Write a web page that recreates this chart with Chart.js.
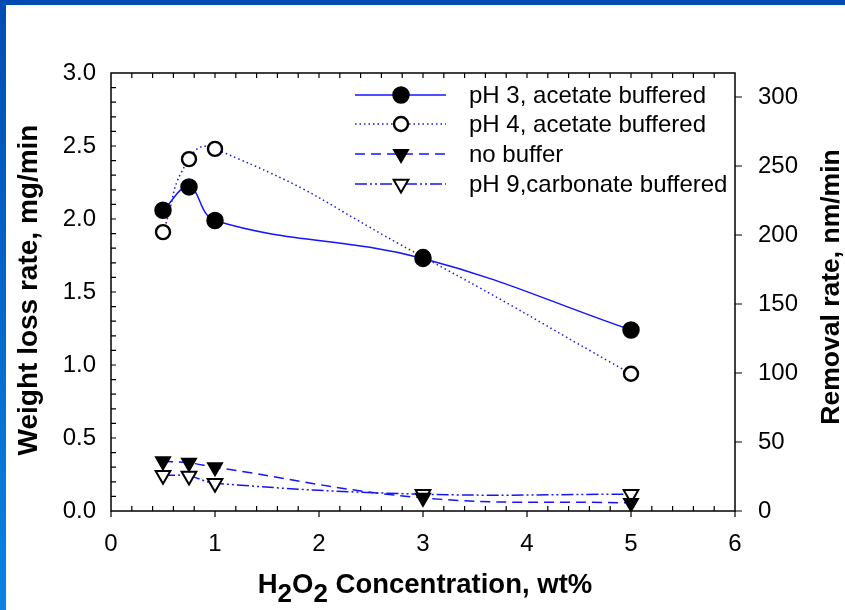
<!DOCTYPE html>
<html>
<head>
<meta charset="utf-8">
<script src="https://cdn.jsdelivr.net/npm/chart.js@4.4.1/dist/chart.umd.min.js"></script>
<style>
  html, body { margin: 0; padding: 0; background: #ffffff; }
  #wrap { position: relative; width: 845px; height: 610px; overflow: hidden; background: #ffffff; }
  #wrap canvas { position: absolute; left: 0; top: 0; }
  #bandTop { position: absolute; left: 0; top: 0; width: 845px; height: 5px; background: #004cb2; }
  #bandLeft { position: absolute; left: 0; top: 0; width: 6px; height: 610px;
              background: linear-gradient(to bottom, #004cb2, #0a82e6); }
</style>
</head>
<body>
<div id="wrap">
  <canvas id="chart" width="845" height="610"></canvas>
  <div id="bandTop"></div>
  <div id="bandLeft"></div>
</div>
<script>
// H2O2 concentration (wt%) at which each rate was measured
const concentration = [0.5, 0.75, 1, 3, 5];

// Weight loss rate, mg/min
const ph3Acetate   = [2.06, 2.22, 1.99, 1.73, 1.24];
const ph4Acetate   = [1.91, 2.41, 2.48, 1.74, 0.94];
const noBuffer     = [0.34, 0.33, 0.30, 0.09, 0.055];
const ph9Carbonate = [0.245, 0.24, 0.19, 0.115, 0.115];

const seriesNames = [
  'pH 3, acetate buffered',
  'pH 4, acetate buffered',
  'no buffer',
  'pH 9,carbonate buffered'
];

// Tick labels
const xTicks       = [0, 1, 2, 3, 4, 5, 6];
const weightTicks  = [0.0, 0.5, 1.0, 1.5, 2.0, 2.5, 3.0];
const removalTicks = [0, 50, 100, 150, 200, 250, 300];

// Conversion between the two vertical axes (nm/min per mg/min)
const removalPerWeight = 105.8;

const FONT = "'Liberation Sans', Arial, Helvetica, sans-serif";
const LINE_BLUE = '#1414ff';

function points(ys) {
  return concentration.map((x, i) => ({ x: x, y: ys[i] }));
}

const seriesStyles = [
  { data: ph3Acetate,   dash: [],                  shape: 'circle',   fill: '#000000', radius: 8,   bw: 1.5, tension: 0.4 },
  { data: ph4Acetate,   dash: [1.5, 3],            shape: 'circle',   fill: '#ffffff', radius: 7,   bw: 2.4, tension: 0.55 },
  { data: noBuffer,     dash: [10, 6],             shape: 'triangle', fill: '#000000', radius: 8.5, bw: 1.5, tension: 0.4 },
  { data: ph9Carbonate, dash: [12, 3, 2, 3, 2, 3], shape: 'triangle', fill: '#ffffff', radius: 8.5, bw: 2,   tension: 0.4 }
];

const datasets = seriesStyles.map((s, i) => ({
  label: seriesNames[i],
  data: points(s.data),
  borderColor: LINE_BLUE,
  borderWidth: 1.5,
  borderDash: s.dash,
  tension: s.tension,
  fill: false,
  pointStyle: s.shape,
  rotation: s.shape === 'triangle' ? 180 : 0,
  pointRadius: s.radius,
  pointBackgroundColor: s.fill,
  pointBorderColor: '#000000',
  pointBorderWidth: s.bw,
  yAxisID: 'y'
}));

function drawMarker(ctx, shape, x, y, r, fill, bw) {
  ctx.save();
  ctx.setLineDash([]);
  ctx.fillStyle = fill;
  ctx.strokeStyle = '#000000';
  ctx.lineWidth = bw;
  ctx.beginPath();
  if (shape === 'circle') {
    ctx.arc(x, y, r, 0, Math.PI * 2);
  } else {
    ctx.moveTo(x, y + r);
    ctx.lineTo(x - r * 0.866, y - r * 0.5);
    ctx.lineTo(x + r * 0.866, y - r * 0.5);
    ctx.closePath();
  }
  ctx.fill();
  ctx.stroke();
  ctx.restore();
}

// Axis frame, inward/outward tick marks, axis titles and the legend
const decorations = {
  id: 'decorations',
  afterDraw(chart) {
    const ctx = chart.ctx;
    const area = chart.chartArea;
    const xs = chart.scales.x, ys = chart.scales.y, y2 = chart.scales.y2;

    ctx.save();
    ctx.strokeStyle = '#000000';
    ctx.lineWidth = 1.5;
    ctx.setLineDash([]);
    ctx.strokeRect(area.left, area.top, area.right - area.left, area.bottom - area.top);

    ctx.lineWidth = 1.2;
    ctx.beginPath();
    // horizontal axis: minor ticks every 0.2 pointing in, major ticks pointing out
    const xMin = xTicks[0], xMax = xTicks[xTicks.length - 1];
    const xSteps = Math.round((xMax - xMin) / 0.2);
    for (let i = 0; i <= xSteps; i++) {
      const v = xMin + i * 0.2;
      const px = xs.getPixelForValue(v);
      if (i % 5 === 0) {
        ctx.moveTo(px, area.bottom); ctx.lineTo(px, area.bottom + 6);
      } else {
        ctx.moveTo(px, area.bottom); ctx.lineTo(px, area.bottom - 5);
      }
      if (i > 0 && i < xSteps) {
        ctx.moveTo(px, area.top); ctx.lineTo(px, area.top + 5);
      }
    }
    // left axis: ticks every 0.1 pointing in
    const yMax = weightTicks[weightTicks.length - 1];
    const ySteps = Math.round(yMax / 0.1);
    for (let i = 1; i < ySteps; i++) {
      const py = ys.getPixelForValue(i * 0.1);
      ctx.moveTo(area.left, py); ctx.lineTo(area.left + 5, py);
    }
    // right axis: major ticks pointing out
    removalTicks.forEach(v => {
      const py = y2.getPixelForValue(v);
      ctx.moveTo(area.right, py); ctx.lineTo(area.right + 7, py);
    });
    ctx.stroke();

    // axis titles
    ctx.fillStyle = '#000000';
    ctx.textAlign = 'center';
    ctx.textBaseline = 'middle';

    ctx.save();
    ctx.font = 'bold 28px ' + FONT;
    ctx.translate(29, 290);
    ctx.rotate(-Math.PI / 2);
    ctx.fillText('Weight loss rate, mg/min', 0, 0);
    ctx.restore();

    ctx.save();
    ctx.font = 'bold 26.5px ' + FONT;
    ctx.translate(832, 287);
    ctx.rotate(-Math.PI / 2);
    ctx.fillText('Removal rate, nm/min', 0, 0);
    ctx.restore();

    // x title with subscripts: H2O2 Concentration, wt%
    const parts = [
      { t: 'H', sub: false }, { t: '2', sub: true },
      { t: 'O', sub: false }, { t: '2', sub: true },
      { t: ' Concentration, wt%', sub: false }
    ];
    const mainFont = 'bold 27.5px ' + FONT;
    const subFont = 'bold 26px ' + FONT;
    let total = 0;
    parts.forEach(p => { ctx.font = p.sub ? subFont : mainFont; p.w = ctx.measureText(p.t).width; total += p.w; });
    let cx = 425 - total / 2;
    ctx.textAlign = 'left';
    ctx.textBaseline = 'alphabetic';
    parts.forEach(p => {
      ctx.font = p.sub ? subFont : mainFont;
      ctx.fillText(p.t, cx, p.sub ? 602 : 593);
      cx += p.w;
    });

    // legend
    const rowY = [95, 124, 154, 184];
    ctx.font = '24px ' + FONT;
    ctx.textBaseline = 'middle';
    seriesStyles.forEach((s, i) => {
      const y = rowY[i];
      ctx.save();
      ctx.strokeStyle = LINE_BLUE;
      ctx.lineWidth = 1.5;
      ctx.setLineDash(s.dash);
      ctx.beginPath();
      ctx.moveTo(355, y);
      ctx.lineTo(446, y);
      ctx.stroke();
      ctx.restore();
      drawMarker(ctx, s.shape, 401, y, s.radius, s.fill, s.bw);
      ctx.fillStyle = '#000000';
      ctx.textAlign = 'left';
      ctx.fillText(seriesNames[i], 469, y + 1);
    });
    ctx.restore();
  }
};

new Chart(document.getElementById('chart'), {
  type: 'line',
  data: { datasets: datasets },
  plugins: [decorations],
  options: {
    responsive: false,
    animation: false,
    devicePixelRatio: 1,
    layout: { padding: { top: 73, left: 0, right: 0, bottom: 0 } },
    plugins: { legend: { display: false }, tooltip: { enabled: false }, title: { display: false } },
    scales: {
      x: {
        type: 'linear',
        position: 'bottom',
        min: xTicks[0],
        max: xTicks[xTicks.length - 1],
        afterBuildTicks: s => { s.ticks = xTicks.map(v => ({ value: v })); },
        afterFit: s => { s.height = 99; },
        grid: { display: false, drawTicks: false },
        border: { display: false },
        ticks: {
          color: '#000000',
          font: { family: FONT, size: 24 },
          padding: 19,
          maxRotation: 0,
          callback: v => String(v)
        }
      },
      y: {
        type: 'linear',
        position: 'left',
        min: 0,
        max: weightTicks[weightTicks.length - 1],
        afterBuildTicks: s => { s.ticks = weightTicks.map(v => ({ value: v })); },
        afterFit: s => { s.width = 111; },
        grid: { display: false, drawTicks: false },
        border: { display: false },
        ticks: {
          color: '#000000',
          font: { family: FONT, size: 24 },
          padding: 15,
          callback: v => Number(v).toFixed(1)
        }
      },
      y2: {
        type: 'linear',
        position: 'right',
        min: 0,
        max: weightTicks[weightTicks.length - 1] * removalPerWeight,
        afterBuildTicks: s => { s.ticks = removalTicks.map(v => ({ value: v })); },
        afterFit: s => { s.width = 110; },
        grid: { display: false, drawTicks: false },
        border: { display: false },
        ticks: {
          color: '#000000',
          font: { family: FONT, size: 24 },
          padding: 23,
          callback: v => String(v)
        }
      }
    }
  }
});
</script>
</body>
</html>
